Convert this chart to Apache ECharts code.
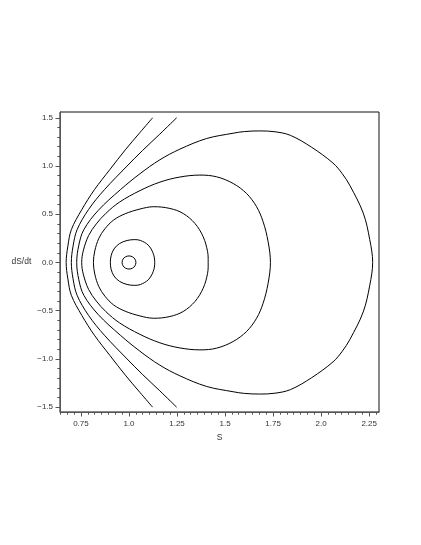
<!DOCTYPE html>
<html>
<head>
<meta charset="utf-8">
<script src="https://cdn.jsdelivr.net/npm/echarts@6/dist/echarts.min.js"></script>
<style>
  html, body { margin: 0; padding: 0; background: #fff; }
  #chart { width: 421px; height: 545px; }
</style>
</head>
<body>
<div id="chart"></div>
<script>
// phase plane: S against dS/dt
const xTicks = [0.75, 1.0, 1.25, 1.5, 1.75, 2.0, 2.25];
const xTickLabels = ["0.75", "1.0", "1.25", "1.5", "1.75", "2.0", "2.25"];
const yTicks = [-1.5, -1.0, -0.5, 0.0, 0.5, 1.0, 1.5];
const yTickLabels = ["\u22121.5", "\u22121.0", "\u22120.5", "0.0", "0.5", "1.0", "1.5"];
const xMinorTicks = [0.643, 0.679, 0.714, 0.786, 0.821, 0.857, 0.893, 0.929, 0.964,
  1.036, 1.071, 1.107, 1.143, 1.179, 1.214, 1.286, 1.321, 1.357, 1.393, 1.429, 1.464,
  1.536, 1.571, 1.607, 1.643, 1.679, 1.714, 1.786, 1.821, 1.857, 1.893, 1.929, 1.964,
  2.036, 2.071, 2.107, 2.143, 2.179, 2.214, 2.286];
const yMinorTicks = [-1.4, -1.3, -1.2, -1.1, -0.9, -0.8, -0.7, -0.6, -0.4, -0.3, -0.2, -0.1,
  0.1, 0.2, 0.3, 0.4, 0.6, 0.7, 0.8, 0.9, 1.1, 1.2, 1.3, 1.4];

// open orbits (top to bottom)
const orbitA = [[1.123, 1.5], [1.057, 1.347], [0.981, 1.168], [0.90, 0.962], [0.82, 0.754],
  [0.755, 0.55], [0.70, 0.34], [0.682, 0.17], [0.673, 0],
  [0.682, -0.17], [0.70, -0.34], [0.755, -0.55], [0.82, -0.754], [0.90, -0.962],
  [0.981, -1.168], [1.057, -1.347], [1.123, -1.5]];
const orbitB = [[1.248, 1.5], [1.16, 1.33], [1.07, 1.16], [0.99, 1.0], [0.872, 0.754],
  [0.79, 0.55], [0.730, 0.34], [0.709, 0.17], [0.700, 0],
  [0.709, -0.17], [0.730, -0.34], [0.79, -0.55], [0.872, -0.754], [0.99, -1.0],
  [1.07, -1.16], [1.16, -1.33], [1.248, -1.5]];

// closed orbits (left point, over the top, round the bottom)
const orbitC = [[0.728, 0], [0.739, 0.18], [0.765, 0.34], [0.84, 0.54], [0.955, 0.754],
  [1.057, 0.92], [1.161, 1.065], [1.265, 1.175], [1.404, 1.285], [1.542, 1.34],
  [1.60, 1.357], [1.68, 1.364], [1.76, 1.355], [1.84, 1.318], [1.95, 1.195],
  [2.062, 1.03], [2.11, 0.92], [2.149, 0.8], [2.219, 0.512], [2.253, 0.236], [2.268, 0],
  [2.253, -0.236], [2.219, -0.512], [2.149, -0.8], [2.11, -0.92], [2.062, -1.03],
  [1.95, -1.195], [1.84, -1.318], [1.76, -1.355], [1.68, -1.364], [1.60, -1.357],
  [1.542, -1.34], [1.404, -1.285], [1.265, -1.175], [1.161, -1.065], [1.057, -0.92],
  [0.955, -0.754], [0.84, -0.54], [0.765, -0.34], [0.739, -0.18]];
const orbitD = [[0.754, 0], [0.762, 0.12], [0.79, 0.28], [0.83, 0.40], [0.88, 0.51],
  [0.95, 0.625], [1.057, 0.745], [1.161, 0.833], [1.265, 0.886], [1.369, 0.906],
  [1.456, 0.888], [1.542, 0.819], [1.612, 0.715], [1.664, 0.578], [1.698, 0.422],
  [1.724, 0.215], [1.736, 0],
  [1.724, -0.215], [1.698, -0.422], [1.664, -0.578], [1.612, -0.715], [1.542, -0.819],
  [1.456, -0.888], [1.369, -0.906], [1.265, -0.886], [1.161, -0.833], [1.057, -0.745],
  [0.95, -0.625], [0.88, -0.51], [0.83, -0.40], [0.79, -0.28], [0.762, -0.12]];
const orbitE = [[0.815, 0], [0.822, 0.12], [0.843, 0.25], [0.875, 0.35], [0.92, 0.44],
  [0.98, 0.505], [1.057, 0.554], [1.126, 0.578], [1.213, 0.56], [1.282, 0.508],
  [1.343, 0.405], [1.386, 0.267], [1.409, 0.112], [1.412, 0],
  [1.409, -0.112], [1.386, -0.267], [1.343, -0.405], [1.282, -0.508], [1.213, -0.56],
  [1.126, -0.578], [1.057, -0.554], [0.98, -0.505], [0.92, -0.44], [0.875, -0.35],
  [0.843, -0.25], [0.822, -0.12]];
const orbitF = [[0.903, 0], [0.907, 0.07], [0.922, 0.14], [0.95, 0.195], [0.99, 0.228],
  [1.03, 0.237], [1.06, 0.228], [1.10, 0.18], [1.126, 0.094], [1.134, 0],
  [1.126, -0.094], [1.10, -0.18], [1.06, -0.228], [1.03, -0.237], [0.99, -0.228],
  [0.95, -0.195], [0.922, -0.14], [0.907, -0.07]];
const orbitG = [[0.964, 0], [0.969, 0.035], [0.982, 0.059], [1.0, 0.068], [1.018, 0.059],
  [1.031, 0.035], [1.036, 0], [1.031, -0.035], [1.018, -0.059], [1.0, -0.068],
  [0.982, -0.059], [0.969, -0.035]];

const openOrbits = [orbitA, orbitB];
const closedOrbits = [orbitC, orbitD, orbitE, orbitF, orbitG];

const X_MIN = 0.641, X_MAX = 2.301;
const Y_MIN = -1.55, Y_MAX = 1.56;
const labelFont = { fontFamily: "Liberation Sans", fontSize: 8, color: "#333" };

const chart = echarts.init(document.getElementById("chart"), null, { renderer: "canvas" });

// one smooth path per orbit, points placed through the axes with api.coord
const orbitSeries = (pts, closed) => ({
  type: "custom",
  data: pts,
  encode: { x: 0, y: 1 },
  renderItem: (params, api) => {
    if (params.dataIndex !== 0) return null;
    return {
      type: closed ? "polygon" : "polyline",
      shape: { points: pts.map((p) => api.coord(p)), smooth: 0.35 },
      style: { fill: "none", stroke: "#000", lineWidth: 1 },
      silent: true,
    };
  },
});

chart.setOption({
  animation: false,
  grid: {
    left: 60, top: 112, width: 319, height: 300,
    show: true, borderColor: "#111", borderWidth: 1, backgroundColor: "transparent",
  },
  xAxis: [
    {
      type: "value", min: X_MIN, max: X_MAX,
      name: "S", nameLocation: "middle", nameGap: 19,
      nameTextStyle: { ...labelFont, fontSize: 8.5 },
      axisLine: { show: true, onZero: false, lineStyle: { color: "#555", width: 1 } },
      axisTick: { show: true, customValues: xTicks, length: 4.5, lineStyle: { color: "#555" } },
      axisLabel: {
        show: true, customValues: xTicks, margin: 8, ...labelFont,
        formatter: (v) => xTickLabels[xTicks.findIndex((t) => Math.abs(t - v) < 1e-6)] ?? "",
      },
      splitLine: { show: false },
    },
    {
      type: "value", min: X_MIN, max: X_MAX, position: "bottom",
      axisLine: { show: false, onZero: false },
      axisTick: { show: true, customValues: xMinorTicks, length: 2.7, lineStyle: { color: "#555" } },
      axisLabel: { show: false },
      splitLine: { show: false },
    },
  ],
  yAxis: [
    {
      type: "value", min: Y_MIN, max: Y_MAX,
      name: "dS/dt", nameLocation: "middle", nameGap: 21, nameRotate: 0,
      nameTextStyle: { ...labelFont, fontSize: 8.5, align: "right" },
      axisLine: { show: true, onZero: false, lineStyle: { color: "#555", width: 1 } },
      axisTick: { show: true, customValues: yTicks, length: 4.5, lineStyle: { color: "#555" } },
      axisLabel: {
        show: true, customValues: yTicks, margin: 7, ...labelFont,
        formatter: (v) => yTickLabels[yTicks.findIndex((t) => Math.abs(t - v) < 1e-6)] ?? "",
      },
      splitLine: { show: false },
    },
    {
      type: "value", min: Y_MIN, max: Y_MAX, position: "left",
      axisLine: { show: false, onZero: false },
      axisTick: { show: true, customValues: yMinorTicks, length: 2.7, lineStyle: { color: "#555" } },
      axisLabel: { show: false },
      splitLine: { show: false },
    },
  ],
  series: [
    ...openOrbits.map((pts) => orbitSeries(pts, false)),
    ...closedOrbits.map((pts) => orbitSeries(pts, true)),
  ],
});
</script>
</body>
</html>
